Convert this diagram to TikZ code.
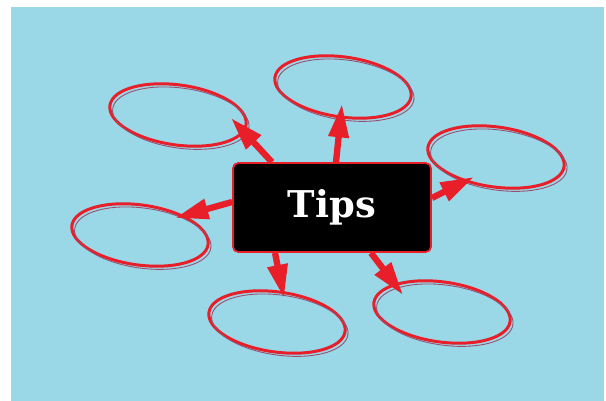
\documentclass[tikz,border=0pt]{standalone}
\usepackage{fontspec}
\usepackage{xcolor}
\usepackage{tikz}
\usetikzlibrary{arrows.meta, shapes.geometric}
\newfontfamily\slabfont{DejaVu Serif}
\definecolor{skyblue}{RGB}{154,216,232}
\definecolor{tipred}{RGB}{232,30,40}
\definecolor{inkgray}{RGB}{150,80,110}

\begin{document}
\begin{tikzpicture}[
    x=0.2mm, y=-0.2mm,
    bubble/.style={
        ellipse, draw=tipred, line width=1.7pt, rotate=-8,
        minimum width=27.5mm, minimum height=12mm, inner sep=0pt,
        postaction={draw=inkgray, line width=0.5pt,
            transform canvas={shift={(1.6pt,-1.8pt)}}},
    },
    tipsbox/.style={
        fill=black, draw=tipred, line width=1pt, rounded corners=3pt,
        minimum width=39.6mm, minimum height=17.8mm, text=white,
        font=\slabfont\bfseries\fontsize{21}{24}\selectfont,
    },
    arrow/.style={-{Triangle[length=19pt, width=11pt]}, draw=tipred, line width=3.6pt},
]
\useasboundingbox (0,0) rectangle (606,401);
\fill[white] (0,0) rectangle (606,401);
\fill[skyblue] (11,7) rectangle (604,401);

% --- bubbles ---
\node[bubble] (b1) at (178,115) {};
\node[bubble] (b2) at (343,87) {};
\node[bubble] (b3) at (496,157) {};
\node[bubble] (b4) at (140,235) {};
\node[bubble] (b5) at (277,322) {};
\node[bubble] (b6) at (442,312) {};

% --- centre box ---
\node[tipsbox] (tips) at (332,207.5) {Tips};

% --- arrows out of the box ---
\draw[arrow] ([xshift=-12mm]tips.north) -- ([shift={(53,3)}]b1.center);
\draw[arrow] ([xshift=0.8mm]tips.north) -- ([shift={(-1,17)}]b2.center);
\draw[arrow] ([yshift=1.9mm]tips.east) -- ([shift={(-22,20)}]b3.center);
\draw[arrow] ([yshift=1.1mm]tips.west) -- ([shift={(35,-17)}]b4.center);
\draw[arrow] ([xshift=-11.4mm]tips.south) -- ([shift={(7,-24)}]b5.center);
\draw[arrow] ([xshift=7.8mm]tips.south) -- ([shift={(-39,-17)}]b6.center);

\end{tikzpicture}
\end{document}
